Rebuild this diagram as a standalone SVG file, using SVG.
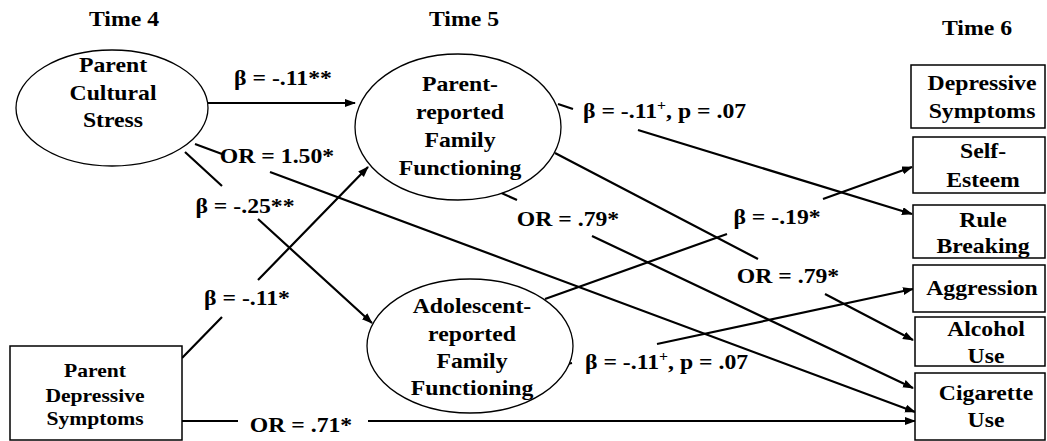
<svg xmlns="http://www.w3.org/2000/svg" width="1047" height="441" viewBox="0 0 1047 441" font-family="'Liberation Serif', 'DejaVu Serif', serif">
<style>
.t{font-family:'Liberation Serif','DejaVu Serif',serif;font-weight:bold;font-size:21px;text-anchor:middle;fill:#000}
.s{text-anchor:start}
.sm{font-size:18px}
.el{fill:#fff;stroke:#000;stroke-width:1.3}
.bx{fill:#fff;stroke:#000;stroke-width:1.5}
.cn{fill:none;stroke:#000;stroke-width:2.2;marker-end:url(#ah)}
</style>
<defs>
<marker id="ah" markerUnits="userSpaceOnUse" markerWidth="13" markerHeight="10" refX="10" refY="4" orient="auto">
<path d="M0,0 L11,4 L0,8 z" fill="#000"/>
</marker>
</defs>
<rect width="1047" height="441" fill="#fff"/>

<g id="time-labels">
<g transform="translate(124,0) scale(1.13,1)"><text class="t" x="0" y="26">Time 4</text></g>
<g transform="translate(464,0) scale(1.13,1)"><text class="t" x="0" y="26">Time 5</text></g>
<g transform="translate(977,0) scale(1.13,1)"><text class="t" x="0" y="35">Time 6</text></g>
</g>

<g id="connectors">
<path class="cn" d="M208,103 L355,103"/>
<path class="cn" d="M195,144 L222,154 M270,172 L915,412"/>
<path class="cn" d="M185,152 L222,186 M258,219 L372,323"/>
<path class="cn" d="M182,358 L222,317 M258,280 L368,167"/>
<path class="cn" d="M182,421 L238,421 M368,421 L915,421"/>
<path class="cn" d="M558,104 L573,109 M638,130 L912,214"/>
<path class="cn" d="M497,191 L517,200 M592,236 L913,388"/>
<path class="cn" d="M555,153 L758,259 M825,294 L913,340"/>
<path class="cn" d="M545,299 L727,234 M823,199 L912,167"/>
<path class="cn" d="M553,367 L572,363 M657,344 L913,289"/>
</g>

<g id="edge-labels">
<g transform="translate(283,0) scale(1.13,1)"><text class="t" x="0" y="85">β = -.11**</text></g>
<g transform="translate(277,0) scale(1.13,1)"><text class="t" x="0" y="163">OR = 1.50*</text></g>
<g transform="translate(245,0) scale(1.13,1)"><text class="t" x="0" y="213">β = -.25**</text></g>
<g transform="translate(247,0) scale(1.13,1)"><text class="t" x="0" y="305">β = -.11*</text></g>
<g transform="translate(301,0) scale(1.13,1)"><text class="t" x="0" y="432">OR = .71*</text></g>
<g transform="translate(583,0) scale(1.13,1)"><text class="t s" x="0" y="118">β = -.11<tspan dy="-8" font-size="14">+</tspan><tspan dy="8">, p = .07</tspan></text></g>
<g transform="translate(568,0) scale(1.13,1)"><text class="t" x="0" y="226">OR = .79*</text></g>
<g transform="translate(777,0) scale(1.13,1)"><text class="t" x="0" y="224">β = -.19*</text></g>
<g transform="translate(788,0) scale(1.13,1)"><text class="t" x="0" y="283">OR = .79*</text></g>
<g transform="translate(585,0) scale(1.13,1)"><text class="t s" x="0" y="369">β = -.11<tspan dy="-8" font-size="14">+</tspan><tspan dy="8">, p = .07</tspan></text></g>
</g>

<g id="parent-cultural-stress">
<ellipse class="el" cx="112" cy="108" rx="96" ry="58"/>
<g transform="translate(113,0) scale(1.13,1)">
<text class="t" x="0" y="72">Parent</text>
<text class="t" x="0" y="100">Cultural</text>
<text class="t" x="0" y="127">Stress</text>
</g>
</g>

<g id="parent-depressive-symptoms">
<rect class="bx" x="10" y="346" width="172" height="94"/>
<g transform="translate(95,0) scale(1.2,1)">
<text class="t sm" x="0" y="377">Parent</text>
<text class="t sm" x="0" y="402">Depressive</text>
<text class="t sm" x="0" y="425">Symptoms</text>
</g>
</g>

<g id="parent-reported-ff">
<ellipse class="el" cx="458" cy="127" rx="103" ry="73"/>
<g transform="translate(460,0) scale(1.13,1)">
<text class="t" x="0" y="91">Parent-</text>
<text class="t" x="0" y="119">reported</text>
<text class="t" x="0" y="147">Family</text>
<text class="t" x="0" y="175">Functioning</text>
</g>
</g>

<g id="adolescent-reported-ff">
<ellipse class="el" cx="470" cy="346" rx="103" ry="67"/>
<g transform="translate(472,0) scale(1.13,1)">
<text class="t" x="0" y="313">Adolescent-</text>
<text class="t" x="0" y="341">reported</text>
<text class="t" x="0" y="368">Family</text>
<text class="t" x="0" y="395">Functioning</text>
</g>
</g>

<g id="depressive-symptoms">
<rect class="bx" x="911" y="65" width="134" height="63"/>
<g transform="translate(982,0) scale(1.13,1)">
<text class="t" x="0" y="90">Depressive</text>
<text class="t" x="0" y="118">Symptoms</text>
</g>
</g>

<g id="self-esteem">
<rect class="bx" x="913" y="137" width="132" height="56"/>
<g transform="translate(983,0) scale(1.13,1)">
<text class="t" x="0" y="158">Self-</text>
<text class="t" x="0" y="187">Esteem</text>
</g>
</g>

<g id="rule-breaking">
<rect class="bx" x="913" y="205" width="132" height="53"/>
<g transform="translate(983,0) scale(1.13,1)">
<text class="t" x="0" y="227">Rule</text>
<text class="t" x="0" y="253">Breaking</text>
</g>
</g>

<g id="aggression">
<rect class="bx" x="913" y="265" width="132" height="47"/>
<g transform="translate(982,0) scale(1.13,1)">
<text class="t" x="0" y="295">Aggression</text>
</g>
</g>

<g id="alcohol-use">
<rect class="bx" x="915" y="317" width="130" height="49"/>
<g transform="translate(986,0) scale(1.13,1)">
<text class="t" x="0" y="336">Alcohol</text>
<text class="t" x="0" y="363">Use</text>
</g>
</g>

<g id="cigarette-use">
<rect class="bx" x="915" y="373" width="130" height="67"/>
<g transform="translate(986,0) scale(1.13,1)">
<text class="t" x="0" y="400">Cigarette</text>
<text class="t" x="0" y="427">Use</text>
</g>
</g>
</svg>
